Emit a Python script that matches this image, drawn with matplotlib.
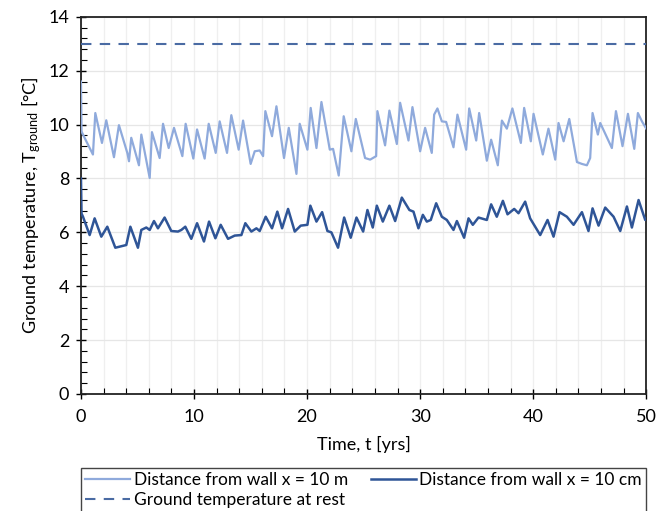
import matplotlib
matplotlib.use("Agg")
import matplotlib.pyplot as plt
from matplotlib.ticker import MultipleLocator

plt.rcParams['font.family'] = ['Lato', 'DejaVu Sans']
plt.rcParams['mathtext.default'] = 'regular'

# ground temperature 10 m from the wall (time in years, temperature in degC)
t_far = [0.0, 0.05, 0.18, 1.06, 1.27, 1.86, 2.24, 2.92, 3.36, 4.10, 4.25, 4.45, 5.13, 5.34,
         6.08, 6.28, 6.96, 7.26, 7.76, 8.23, 8.97, 9.26, 9.94, 10.27, 10.94, 11.30, 11.92,
         12.27, 12.92, 13.30, 13.95, 14.34, 15.01, 15.37, 15.81, 16.11, 16.31, 16.90, 17.29,
         17.96, 18.38, 19.06, 19.35, 20.03, 20.32, 20.83, 21.27, 22.01, 22.30, 22.80, 23.24,
         23.92, 24.31, 25.13, 25.58, 26.11, 26.22, 26.90, 27.28, 27.94, 28.23, 28.97, 29.32,
         30.00, 30.44, 31.03, 31.24, 31.53, 31.92, 32.30, 32.95, 33.30, 34.07, 34.34, 34.96,
         35.22, 35.90, 36.28, 36.87, 37.23, 37.67, 38.16, 38.91, 39.20, 39.79, 40.03, 40.85,
         41.35, 41.95, 42.24, 42.69, 43.19, 43.87, 44.31, 44.75, 45.04, 45.25, 45.72, 45.93,
         46.96, 47.32, 47.90, 48.38, 48.94, 49.26, 49.62, 50.00]
T_far = [11.6, 9.75, 9.63, 8.89, 10.43, 9.32, 10.16, 8.79, 9.98, 8.95, 8.64, 9.51, 8.49, 9.63,
         8.02, 9.72, 8.76, 10.03, 9.13, 9.88, 8.83, 10.03, 8.74, 9.82, 8.74, 10.03, 8.95,
         10.12, 8.95, 10.35, 9.07, 10.15, 8.54, 9.01, 9.04, 8.83, 10.50, 9.57, 10.68,
         8.76, 9.88, 8.17, 10.03, 9.07, 10.62, 9.13, 10.84, 9.07, 9.10, 8.11, 10.31,
         9.01, 10.21, 8.76, 8.70, 8.83, 10.50, 9.23, 10.52, 9.28, 10.81, 9.41, 10.65,
         9.01, 9.88, 8.95, 10.37, 10.60, 10.12, 10.10, 9.16, 10.37, 9.07, 10.60, 9.41,
         10.43, 8.66, 9.44, 8.49, 10.15, 9.85, 10.60, 9.32, 10.62, 9.38, 10.40, 8.89,
         9.85, 8.70, 10.06, 9.38, 10.21, 8.61, 8.54, 8.49, 8.76, 10.43, 9.63, 10.06,
         9.13, 10.50, 9.20, 10.40, 9.10, 10.43, 10.12, 9.85]

# ground temperature 10 cm from the wall
t_near = [0.0, 0.05, 0.18, 0.77, 1.21, 1.80, 2.33, 3.04, 4.01, 4.37, 5.04, 5.34, 5.78, 6.08,
          6.46, 6.81, 7.40, 7.99, 8.58, 8.88, 9.23, 9.76, 10.27, 10.88, 11.33, 11.89, 12.36,
          13.01, 13.60, 14.19, 14.54, 15.07, 15.52, 15.81, 16.34, 16.90, 17.37, 17.79, 18.32,
          18.91, 19.44, 20.03, 20.29, 20.83, 21.33, 21.80, 22.15, 22.74, 23.28, 23.86, 24.37,
          24.96, 25.34, 25.81, 26.17, 26.70, 27.28, 27.79, 28.38, 29.05, 29.41, 29.85, 30.24,
          30.59, 30.94, 31.42, 31.92, 32.36, 32.95, 33.25, 33.89, 34.28, 34.66, 35.16, 35.90,
          36.28, 36.78, 37.32, 37.73, 38.32, 38.70, 39.29, 39.73, 40.62, 41.27, 41.80, 42.33,
          42.98, 43.57, 44.31, 44.89, 45.25, 45.78, 46.37, 47.11, 47.70, 48.29, 48.73, 49.32,
          49.91, 50.00]
T_near = [8.0, 6.7, 6.58, 5.90, 6.52, 5.84, 6.21, 5.43, 5.53, 6.21, 5.43, 6.09, 6.18, 6.09,
          6.42, 6.15, 6.55, 6.05, 6.03, 6.09, 6.21, 5.76, 6.34, 5.66, 6.40, 5.78, 6.28,
          5.76, 5.88, 5.90, 6.34, 6.03, 6.15, 6.05, 6.58, 6.15, 6.77, 6.15, 6.87,
          6.03, 6.25, 6.28, 6.99, 6.40, 6.75, 6.05, 6.00, 5.43, 6.55, 5.80, 6.55,
          6.03, 6.83, 6.18, 6.99, 6.40, 6.99, 6.42, 7.29, 6.83, 6.77, 6.15, 6.65,
          6.40, 6.46, 7.08, 6.58, 6.46, 6.09, 6.42, 5.80, 6.52, 6.28, 6.55, 6.46,
          7.04, 6.58, 7.17, 6.67, 6.87, 6.71, 7.14, 6.52, 5.90, 6.46, 5.84, 6.75,
          6.58, 6.28, 6.75, 6.05, 6.89, 6.25, 6.92, 6.58, 6.05, 6.96, 6.18, 7.20,
          6.46, 6.50]

# undisturbed ground temperature
t_rest = [0, 50]
T_rest = [13.0, 13.0]

fig = plt.figure(figsize=(6.69, 5.11), dpi=100)
ax = fig.add_axes([0.121, 0.229, 0.845, 0.738])

l_far, = ax.plot(t_far, T_far, color='#8FAADC', lw=1.6, zorder=3,
                 solid_joinstyle='round')
l_near, = ax.plot(t_near, T_near, color='#2F5597', lw=1.8, zorder=3,
                  solid_joinstyle='round')
l_rest, = ax.plot(t_rest, T_rest, color='#4A6BA3', lw=1.5, ls=(0, (5, 4)), zorder=3)

ax.set_xlim(0, 50)
ax.set_ylim(0, 14)
ax.xaxis.set_major_locator(MultipleLocator(10))
ax.xaxis.set_minor_locator(MultipleLocator(2))
ax.yaxis.set_major_locator(MultipleLocator(2))
ax.yaxis.set_minor_locator(MultipleLocator(0.4))
ax.tick_params(which='major', direction='inout', length=7, width=1, labelsize=13, pad=5)
ax.tick_params(which='minor', direction='in', length=4, width=0.8)
ax.tick_params(axis='x', which='major', pad=7)

ax.grid(True, which='major', axis='y', color='#E6E6E6', lw=0.9)
ax.grid(True, which='both', axis='x', color='#EFEFEF', lw=0.9)
ax.set_axisbelow(True)
for s in ax.spines.values():
    s.set_color('#222222')
    s.set_linewidth(1.3)

ax.set_xlabel('Time, t [yrs]', fontsize=13, labelpad=8)
ax.set_ylabel('Ground temperature, T$_{ground}$ [°C]', fontsize=13, labelpad=4)

# legend: 10 m and 10 cm on the first row, rest temperature below
leg = ax.legend([l_far, l_rest, l_near],
                ['Distance from wall x = 10 m', 'Ground temperature at rest',
                 'Distance from wall x = 10 cm'],
                loc='upper left', bbox_to_anchor=(0, -0.196, 1, 0), mode='expand',
                ncol=2, fontsize=12.5, frameon=True, fancybox=False,
                edgecolor='#444444', framealpha=1, borderpad=0.25, handlelength=2.6,
                handletextpad=0.2, columnspacing=1.0, labelspacing=0.2, borderaxespad=0)
leg.get_frame().set_linewidth(1.0)

fig.savefig('out.png', dpi=100)
